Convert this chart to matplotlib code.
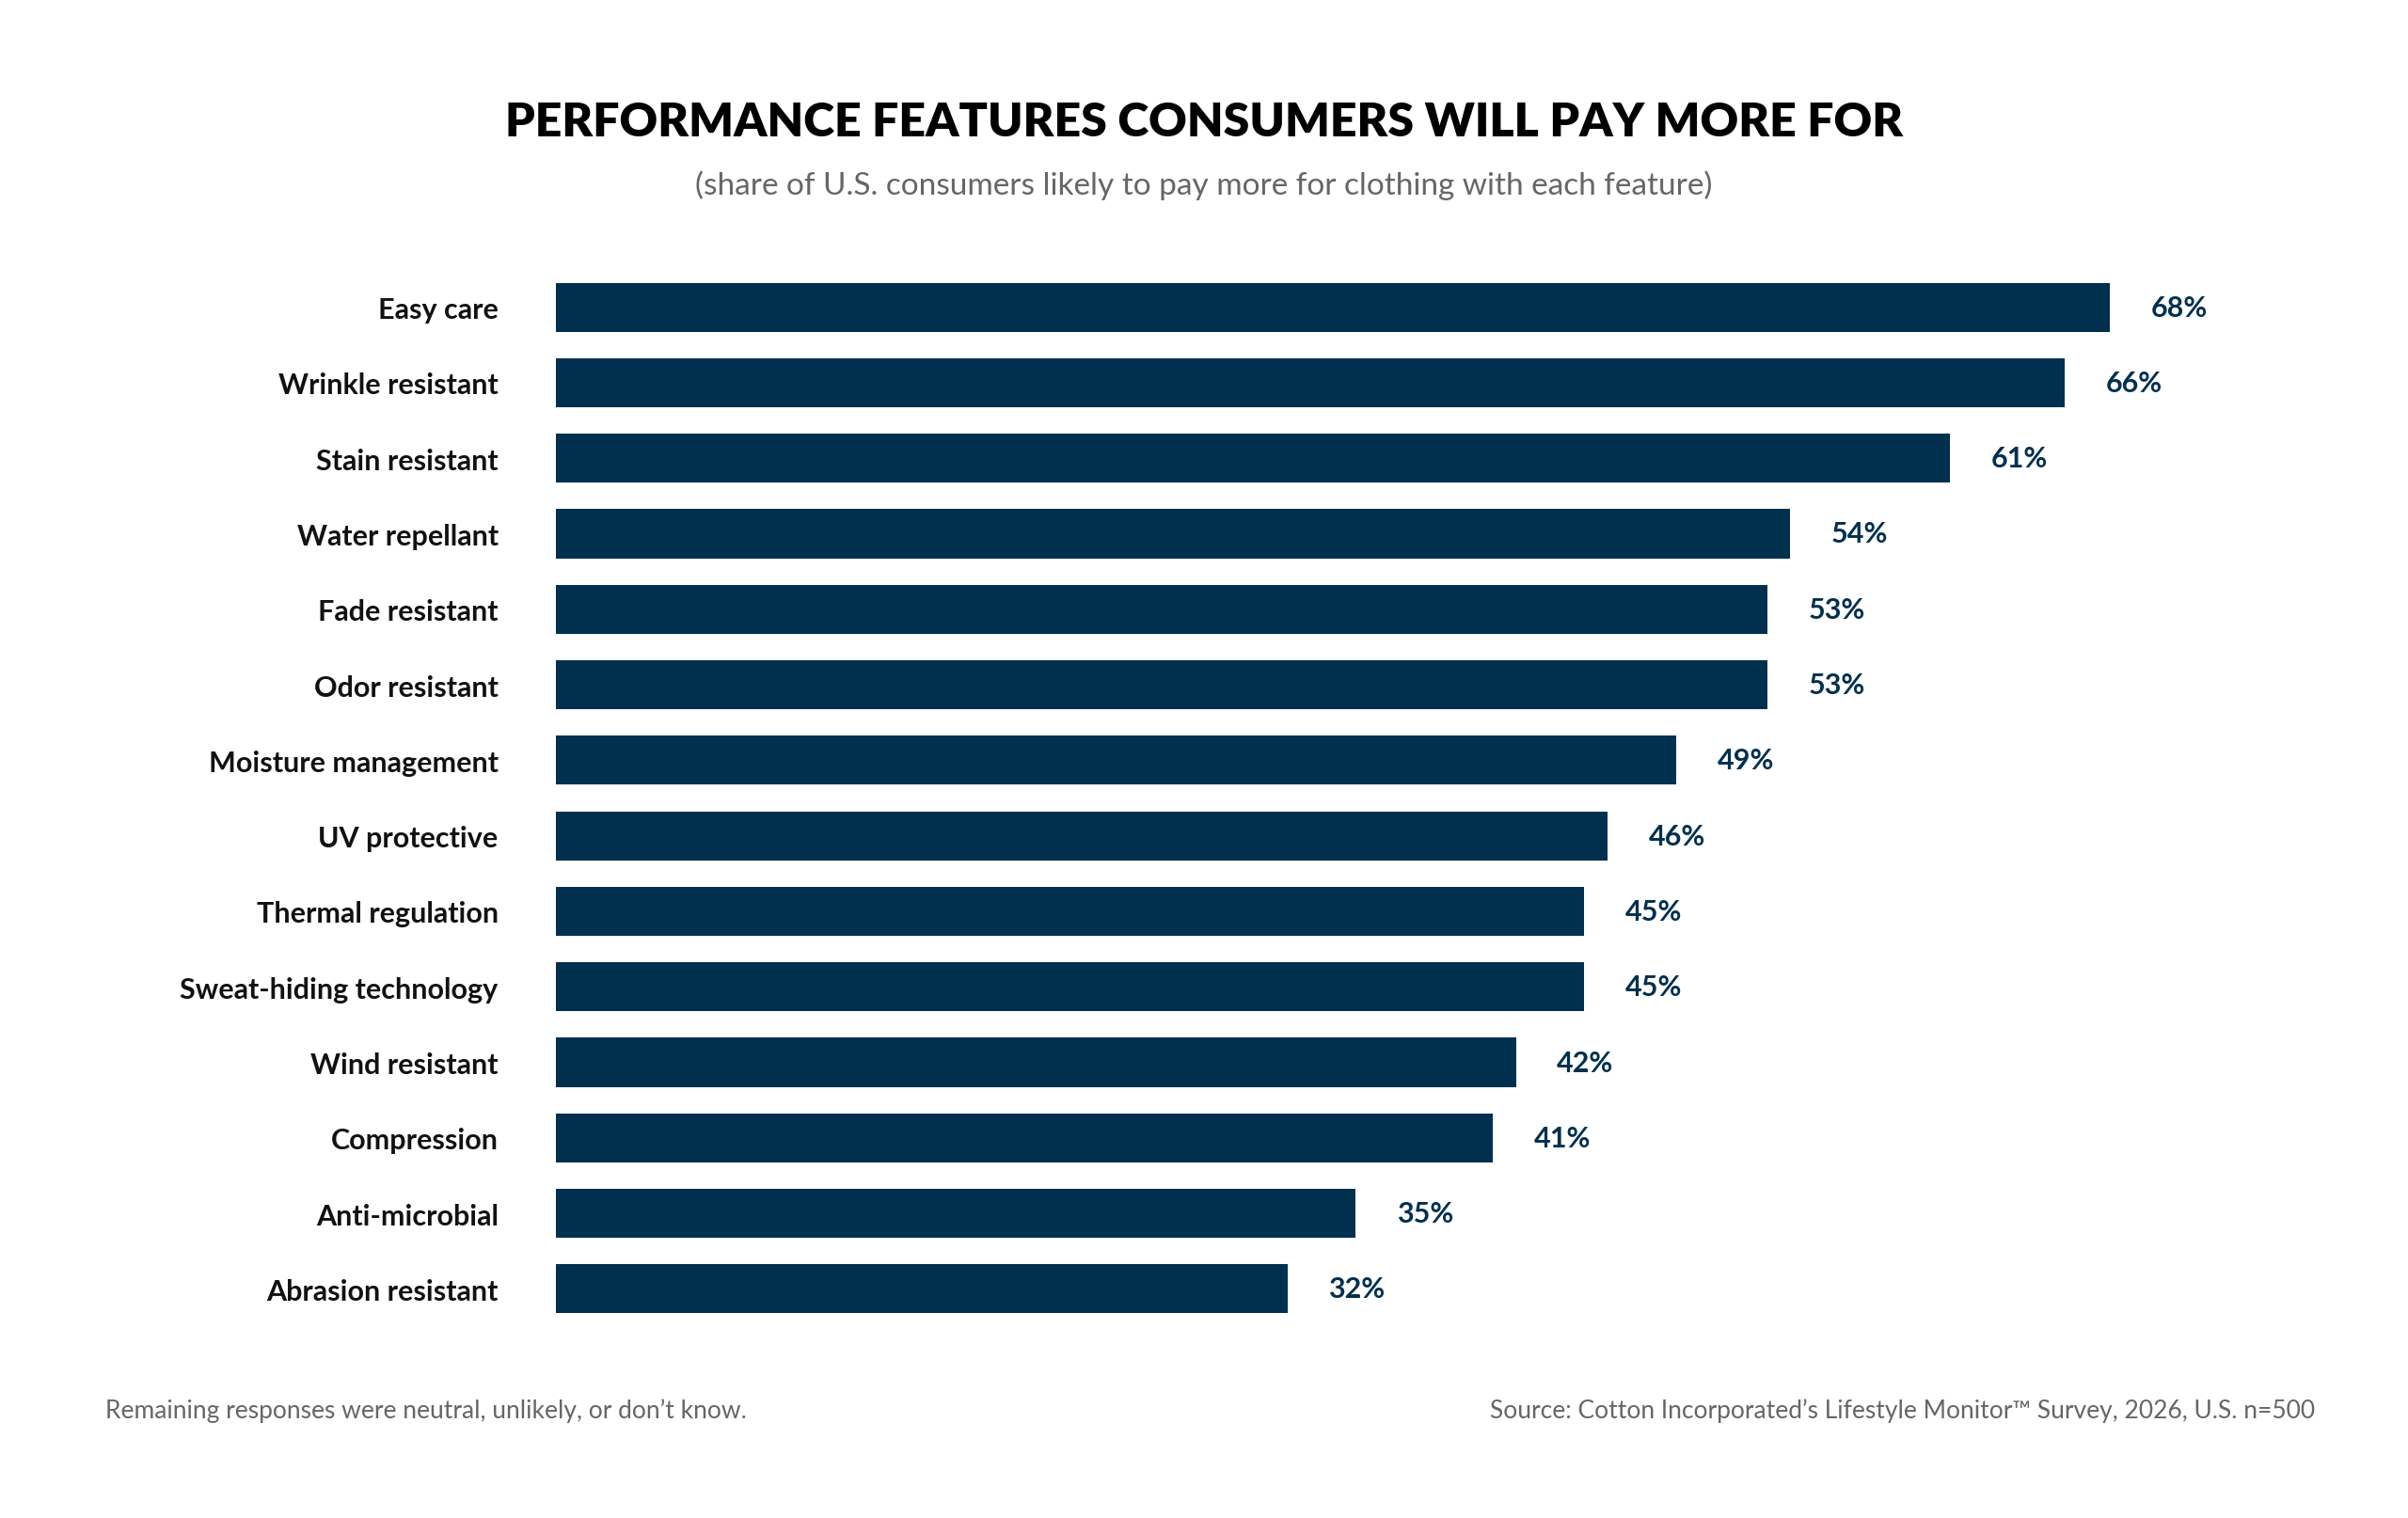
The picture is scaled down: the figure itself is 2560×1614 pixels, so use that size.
import matplotlib.pyplot as plt

features = ["Easy care", "Wrinkle resistant", "Stain resistant", "Water repellant",
            "Fade resistant", "Odor resistant", "Moisture management", "UV protective",
            "Thermal regulation", "Sweat-hiding technology", "Wind resistant",
            "Compression", "Anti-microbial", "Abrasion resistant"]
shares = [68, 66, 61, 54, 53, 53, 49, 46, 45, 45, 42, 41, 35, 32]

navy = "#01304f"
plt.rcParams['font.family'] = ['Lato', 'DejaVu Sans']

fig = plt.figure(figsize=(25.6, 16.15), dpi=100)
ax = fig.add_axes([0.2308, 0.126, 0.712, 0.696])

y = list(range(len(features)))
ax.barh(y, shares, height=0.65, color=navy)
for yi, v in zip(y, shares):
    ax.text(v + 1.8, yi, f"{v}%", va='center', ha='left', fontsize=22,
            fontweight='bold', color=navy)

ax.set_xlim(0, 75)
ax.set_ylim(len(features) - 0.5, -0.5)
ax.set_yticks(y, features)
ax.tick_params(axis='y', length=0, pad=44, labelsize=22, labelcolor='#111111')
for lab in ax.get_yticklabels():
    lab.set_fontweight('bold')
ax.set_xticks([])
for s in ax.spines.values():
    s.set_visible(False)

fig.text(0.5, 0.919, "PERFORMANCE FEATURES CONSUMERS WILL PAY MORE FOR",
         ha='center', va='center', fontsize=36, fontweight='heavy', color='#000000')
fig.text(0.5, 0.878, "(share of U.S. consumers likely to pay more for clothing with each feature)",
         ha='center', va='center', fontsize=24, color='#666666')
fig.text(0.0436, 0.071, "Remaining responses were neutral, unlikely, or don\u2019t know.",
         ha='left', va='center', fontsize=19, color='#666666')
fig.text(0.9615, 0.071, "Source: Cotton Incorporated\u2019s Lifestyle Monitor\u2122 Survey, 2026, U.S. n=500",
         ha='right', va='center', fontsize=19, color='#666666')

fig.savefig("out.png", dpi=100, facecolor='white')
